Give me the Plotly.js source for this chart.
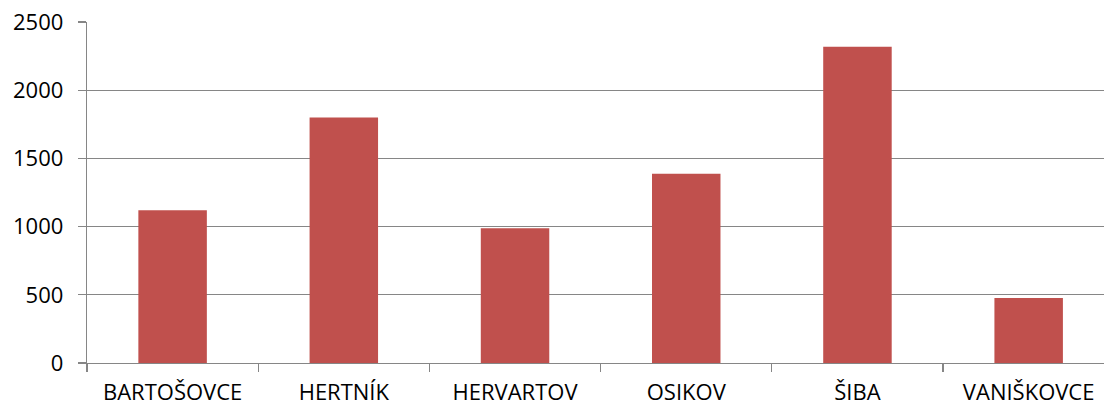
<!DOCTYPE html>
<html>
<head>
<meta charset="utf-8">
<script src="https://cdn.plot.ly/plotly-3.0.1.min.js"></script>
<style>html,body{margin:0;padding:0;background:#fff;}#chart{width:1104px;height:407px;}</style>
</head>
<body>
<div id="chart"></div>
<script>
const categories = ["BARTOŠOVCE", "HERTNÍK", "HERVARTOV", "OSIKOV", "ŠIBA", "VANIŠKOVCE"];
const values = [1120, 1800, 987, 1388, 2318, 477];
const yTicks = [0, 500, 1000, 1500, 2000, 2500];

const trace = {
  type: "bar",
  x: categories,
  y: values,
  marker: {color: "#C0504D", line: {width: 0}},
  hoverinfo: "x+y"
};

const layout = {
  width: 1104,
  height: 407,
  margin: {l: 87, r: 0, t: 22, b: 44, pad: 0},
  paper_bgcolor: "#fff",
  plot_bgcolor: "#fff",
  bargap: 0.6,
  showlegend: false,
  font: {family: "Open Sans, sans-serif", size: 22, color: "#000"},
  xaxis: {
    type: "category",
    range: [-0.5, 5.44],
    showline: true,
    linecolor: "#868686",
    linewidth: 1.3,
    ticks: "outside",
    tickson: "boundaries",
    ticklen: 8,
    tickcolor: "#868686",
    tickwidth: 1.3,
    showgrid: false,
    ticklabelstandoff: 9,
    automargin: false,
    tickfont: {size: 22}
  },
  yaxis: {
    range: [0, 2500],
    tickvals: yTicks,
    ticktext: yTicks.map(String),
    showline: true,
    linecolor: "#868686",
    linewidth: 1.3,
    ticks: "outside",
    ticklen: 8,
    tickcolor: "#868686",
    tickwidth: 1.3,
    showgrid: true,
    gridcolor: "#868686",
    gridwidth: 1.3,
    zeroline: false,
    ticklabelstandoff: 10,
    automargin: false,
    tickfont: {size: 22}
  }
};

Plotly.newPlot("chart", [trace], layout, {displayModeBar: false, staticPlot: true});
</script>
</body>
</html>
